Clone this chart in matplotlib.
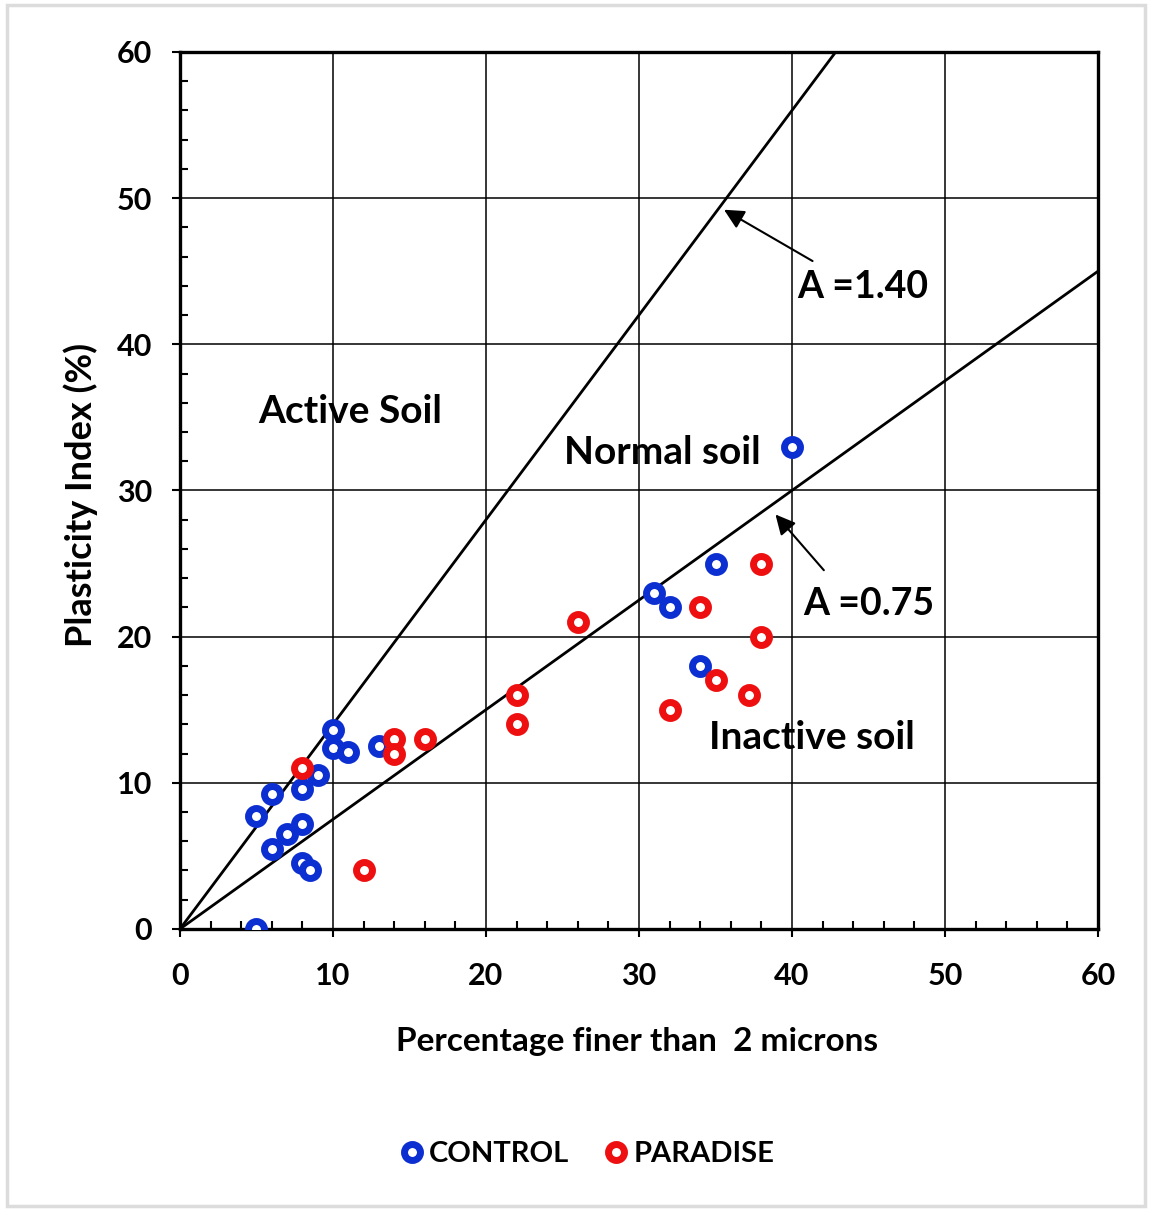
import matplotlib.pyplot as plt
import numpy as np
from matplotlib.patches import Rectangle
from matplotlib.ticker import MultipleLocator

plt.rcParams['font.family'] = ['Lato', 'DejaVu Sans']
plt.rcParams['font.weight'] = 'bold'

# clay fraction (% finer than 2 microns) vs plasticity index (%)
control_clay = [5, 5, 6, 6, 7, 8, 8, 9, 10, 10, 11, 13, 8, 8.5, 31, 32, 35, 34, 40]
control_pi = [0, 7.7, 9.2, 5.5, 6.5, 7.2, 9.6, 10.5, 13.6, 12.4, 12.1, 12.5, 4.5, 4.0, 23, 22, 25, 18, 33]

paradise_clay = [8, 14, 14, 16, 12, 26, 22, 22, 34, 38, 38, 35, 37.2, 32]
paradise_pi = [11, 13, 12, 13, 4, 21, 16, 14, 22, 25, 20, 17, 16, 15]

# activity lines A = PI / clay fraction
activities = [1.40, 0.75]

fig = plt.figure(figsize=(11.5, 12.11), dpi=100)
ax = fig.add_axes([0.1565, 0.2329, 0.7983, 0.7242])

ax.set_xlim(0, 60)
ax.set_ylim(0, 60)
ax.xaxis.set_major_locator(MultipleLocator(10))
ax.yaxis.set_major_locator(MultipleLocator(10))
ax.xaxis.set_minor_locator(MultipleLocator(2))
ax.yaxis.set_minor_locator(MultipleLocator(2))
ax.grid(True, which='major', color='black', lw=1.1)
ax.tick_params(which='major', direction='out', length=6, width=1.5, labelsize=22)
ax.tick_params(axis='x', which='major', pad=18)
ax.tick_params(axis='y', which='major', pad=14)
ax.tick_params(which='minor', direction='in', length=6, width=1.5)
for lab in ax.get_xticklabels() + ax.get_yticklabels():
    lab.set_fontweight('bold')
for s in ax.spines.values():
    s.set_linewidth(2.4)

xx = np.array([0, 60])
for a in activities:
    ax.plot(xx, a * xx, color='black', lw=2.0, zorder=3)

ring = dict(ls='none', marker='o', ms=11.5, mew=5, mfc='white', zorder=4)
ax.plot(control_clay, control_pi, mec='#0b2fd0', label='CONTROL', **ring)
ax.plot(paradise_clay, paradise_pi, mec='#ee1010', label='PARADISE', **ring)

ax.set_xlabel('Percentage finer than  2 microns', fontsize=24, fontweight='bold')
ax.set_ylabel('Plasticity Index (%)', fontsize=26, fontweight='bold')
ax.xaxis.set_label_coords(0.498, -0.112)
ax.yaxis.set_label_coords(-0.089, 0.495)

ax.text(11.1, 35.4, 'Active Soil', fontsize=28, ha='center', va='center', zorder=1)
ax.text(31.5, 32.6, 'Normal soil', fontsize=28, ha='center', va='center', zorder=1)
ax.text(41.3, 13.1, 'Inactive soil', fontsize=28, ha='center', va='center', zorder=1)

arrow = dict(arrowstyle='-|>', color='black', lw=1.5, mutation_scale=30)
ax.annotate('', xy=(35.4, 49.3), xytext=(41.5, 45.6), arrowprops=arrow)
ax.text(44.6, 43.9, 'A =1.40', fontsize=27, ha='center', va='center')
ax.annotate('', xy=(38.8, 28.5), xytext=(42.2, 24.4), arrowprops=arrow)
ax.text(45.0, 22.2, 'A =0.75', fontsize=27, ha='center', va='center')

leg = fig.legend(loc='center', bbox_to_anchor=(0.508, 0.047), ncol=2, frameon=False,
                 prop={'size': 21, 'weight': 'bold'}, handletextpad=0.0,
                 columnspacing=1.0, handlelength=1.2)

fig.add_artist(Rectangle((0.006, 0.004), 0.99, 0.992, transform=fig.transFigure,
                         fill=False, ec='#dcdcdc', lw=2.5))

fig.savefig('out.png', dpi=100)
